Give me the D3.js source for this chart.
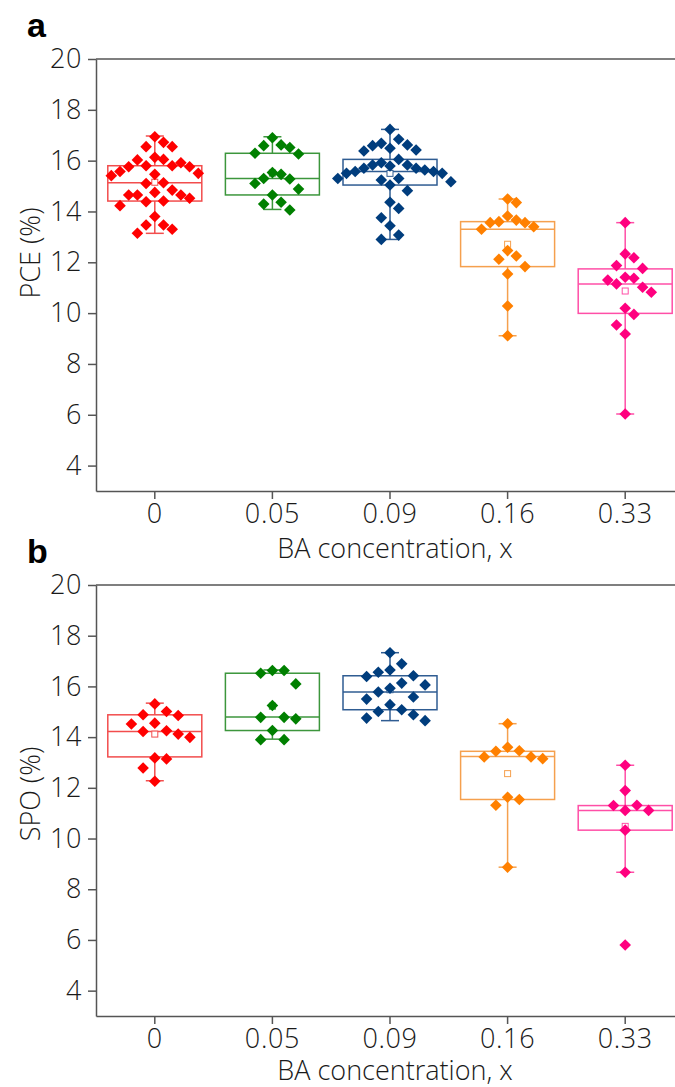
<!DOCTYPE html>
<html>
<head>
<meta charset="utf-8">
<script src="https://cdn.jsdelivr.net/npm/d3@7"></script>
<style>
  body { margin: 0; background: #fff; }
  text { font-family: "Open Sans", sans-serif; }
</style>
</head>
<body>
<div id="chart"></div>
<script>
// categories (BA concentration)
var cats = ["0", "0.05", "0.09", "0.16", "0.33"];
var yTicks = [4, 6, 8, 10, 12, 14, 16, 18, 20];

// colours: marker, box
var markCol = ["#ff0000", "#008000", "#003d7d", "#ff8000", "#ff007f"];
var boxCol = ["#f24d4d", "#3c963c", "#2f5c92", "#f5a04e", "#ff4fa7"];

// panel a - PCE (%) single devices
var pce = [
  [16.94, 16.55, 16.55, 16.72, 16.03, 16.05, 16.13, 15.57, 15.5, 15.8, 15.8, 15.76, 15.76, 15.92, 15.46, 15.41,
   15.13, 15.1, 14.84, 14.75, 14.65, 14.65, 14.65, 14.38, 14.52, 14.41, 14.23, 13.8, 13.47, 13.47, 13.3, 13.14],
  [16.26, 16.29, 16.52, 16.62, 16.9, 16.59, 15.28, 15.53, 15.1, 15.46, 15.3, 14.88, 14.36, 14.65, 14.06, 14.29],
  [17.23, 16.84, 16.42, 16.68, 16.59, 16.62, 16.49, 16.38, 16.05, 15.92, 15.83, 15.83, 15.7, 15.7, 15.79, 15.57,
   15.57, 15.5, 15.3, 15.24, 15.63, 15.5, 15.17, 15.3, 15.04, 14.82, 14.36, 14.12, 13.75, 13.44, 13.07, 12.9],
  [14.35, 14.49, 13.66, 13.4, 13.56, 13.6, 13.56, 13.82, 13.3, 12.46, 12.12, 12.25, 11.83, 11.54, 10.28, 9.11],
  [13.56, 12.33, 12.18, 11.76, 11.87, 11.3, 11.41, 11.37, 11.02, 11.15, 10.82, 10.19, 9.95, 9.53, 9.18, 6.03]
];
var pceQ1 = [14.41, 14.65, 15.04, 11.83, 9.99];
var pceMed = [15.13, 15.3, 15.57, 13.3, 11.15];
var pceQ3 = [15.8, 16.29, 16.05, 13.6, 11.74];
var pceMean = [15.15, 15.51, 15.5, 12.71, 10.87];
var pceLo = [13.14, 14.08, 12.9, 9.11, 6.03];
var pceHi = [16.97, 16.94, 17.23, 14.49, 13.56];

// panel b - SPO (%)
var spo = [
  [15.31, 14.85, 14.88, 15.01, 14.55, 14.52, 14.25, 14.12, 14.22, 13.99, 13.18, 13.14, 12.78, 12.26],
  [16.63, 16.52, 16.63, 16.1, 15.25, 14.78, 14.78, 14.72, 14.26, 13.9, 13.9],
  [17.33, 16.89, 16.65, 16.56, 16.42, 16.39, 16.13, 16.06, 15.93, 15.78, 15.58, 15.5, 15.28, 15.08, 15.01, 14.88, 14.75, 14.65],
  [14.53, 13.6, 13.44, 13.46, 13.15, 13.22, 13.22, 11.31, 11.54, 11.63, 8.87],
  [12.89, 11.89, 11.11, 11.3, 11.31, 11.11, 10.33, 8.67, 5.8]
];
var spoQ1 = [13.22, 14.26, 15.08, 11.54, 10.33];
var spoMed = [14.22, 14.79, 15.78, 13.24, 11.11];
var spoQ3 = [14.88, 16.52, 16.42, 13.44, 11.3];
var spoMean = [14.12, 15.22, 15.87, 12.56, 10.48];
var spoLo = [12.28, 13.92, 14.65, 8.87, 8.67];
var spoHi = [15.34, 16.65, 17.33, 14.53, 12.89];

var W = 675, H = 1087;
var left = 96, right = 684;

var svg = d3.select("#chart").append("svg")
    .attr("width", W)
    .attr("height", H);

var x = d3.scaleBand().domain(cats).range([left, right]);
var diamond = "M0,-5.8L5.8,0L0,5.8L-5.8,0Z";

// greedy grid beeswarm: offset in slots of dx, avoid vertical overlap
function swarm(vals, y, dx, minDy) {
  var order = d3.range(vals.length).sort(function (a, b) { return vals[b] - vals[a]; });
  var placed = [], off = new Array(vals.length);
  order.forEach(function (i) {
    var py = y(vals[i]);
    for (var k = 0; k < 40; k++) {
      var s = k === 0 ? 0 : (k % 2 ? (k + 1) / 2 : -k / 2);
      var px = s * dx;
      var hit = placed.some(function (p) { return Math.abs(p.x - px) < dx * 0.9 && Math.abs(p.y - py) < minDy; });
      if (!hit) { placed.push({x: px, y: py}); off[i] = px; break; }
    }
  });
  return off;
}

function panel(top, bottom, label, yTitle, titleY, xTitleY, data, q1, med, q3, mean, lo, hi, dx, minDy) {
  var y = d3.scaleLinear().domain([3, 20]).range([bottom, top]);
  var g = svg.append("g");

  // frame top
  g.append("line")
      .attr("x1", left).attr("x2", right)
      .attr("y1", y(20)).attr("y2", y(20))
      .attr("stroke", "#555").attr("stroke-width", 1.5);

  var ya = g.append("g")
      .attr("transform", "translate(" + left + ",0)")
      .call(d3.axisLeft(y).tickValues(yTicks).tickSize(8).tickSizeOuter(0).tickPadding(6));
  var xa = g.append("g")
      .attr("transform", "translate(0," + bottom + ")")
      .call(d3.axisBottom(x).tickSize(8).tickSizeOuter(0).tickPadding(5));
  [ya, xa].forEach(function (a) {
    a.selectAll("path, line").attr("stroke", "#555").attr("stroke-width", 1.5);
    a.selectAll("text").attr("font-size", 27).attr("fill", "#1a1a1a")
        .attr("font-weight", 300).attr("letter-spacing", 0.6)
        .style("font-family", "'Open Sans', sans-serif");
  });

  g.append("text")
      .attr("x", 395).attr("y", xTitleY)
      .attr("text-anchor", "middle")
      .attr("font-size", 27).attr("font-weight", 300).attr("fill", "#1a1a1a")
      .text("BA concentration, x");

  g.append("text")
      .attr("transform", "translate(40," + titleY + ") rotate(-90)")
      .attr("text-anchor", "middle")
      .attr("font-size", 27).attr("font-weight", 300).attr("fill", "#1a1a1a")
      .text(yTitle);

  g.append("text")
      .attr("x", 27).attr("y", top - 22)
      .attr("font-size", 34).attr("font-weight", "bold")
      .style("font-family", "'Liberation Sans', Arial, sans-serif")
      .text(label);

  var bw = 94, cap = 18;
  cats.forEach(function (c, i) {
    var cx = x(c) + x.bandwidth() / 2;
    var col = boxCol[i];
    var bg = g.append("g");
    // whiskers
    bg.append("line").attr("x1", cx).attr("x2", cx)
        .attr("y1", y(hi[i])).attr("y2", y(q3[i]))
        .attr("stroke", col).attr("stroke-width", 1.5);
    bg.append("line").attr("x1", cx).attr("x2", cx)
        .attr("y1", y(q1[i])).attr("y2", y(lo[i]))
        .attr("stroke", col).attr("stroke-width", 1.5);
    [hi[i], lo[i]].forEach(function (v) {
      bg.append("line").attr("x1", cx - cap / 2).attr("x2", cx + cap / 2)
          .attr("y1", y(v)).attr("y2", y(v))
          .attr("stroke", col).attr("stroke-width", 1.5);
    });
    // box
    bg.append("rect")
        .attr("x", cx - bw / 2).attr("width", bw)
        .attr("y", y(q3[i])).attr("height", y(q1[i]) - y(q3[i]))
        .attr("fill", "none").attr("stroke", col).attr("stroke-width", 1.5);
    bg.append("line").attr("x1", cx - bw / 2).attr("x2", cx + bw / 2)
        .attr("y1", y(med[i])).attr("y2", y(med[i]))
        .attr("stroke", col).attr("stroke-width", 1.5);
    bg.append("rect")
        .attr("x", cx - 3).attr("y", y(mean[i]) - 3)
        .attr("width", 6).attr("height", 6)
        .attr("fill", "#fff").attr("stroke", col).attr("stroke-width", 1);

    // points
    var off = swarm(data[i], y, dx, minDy);
    g.append("g").selectAll("path")
      .data(data[i])
      .join("path")
        .attr("d", diamond)
        .attr("transform", function (d, j) { return "translate(" + (cx + off[j]) + "," + y(d) + ")"; })
        .attr("fill", markCol[i]);
  });
}

panel(59, 491, "a", "PCE (%)", 253, 558, pce, pceQ1, pceMed, pceQ3, pceMean, pceLo, pceHi, 8.7, 17);
panel(585, 1016, "b", "SPO (%)", 794, 1080, spo, spoQ1, spoMed, spoQ3, spoMean, spoLo, spoHi, 11.7, 16);
</script>
</body>
</html>
